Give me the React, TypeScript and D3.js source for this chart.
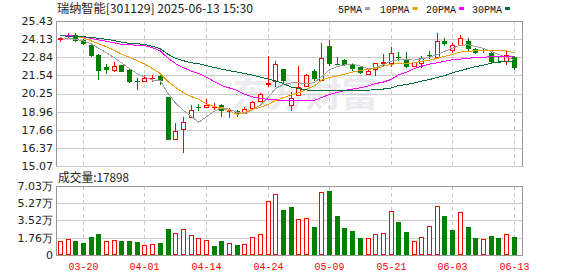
import React from 'react';
import * as d3 from 'd3';

const title = '瑞纳智能[301129] 2025-06-13 15:30';
const volTitle = '成交量:17898';
const watermark = '东方财富';

const dates = ['03-17','03-18','03-19','03-20','03-21','03-24','03-25','03-26','03-27','03-28','03-31','04-01','04-02','04-03','04-07','04-08','04-09','04-10','04-11','04-14','04-15','04-16','04-17','04-18','04-21','04-22','04-23','04-24','04-25','04-28','04-29','04-30','05-06','05-07','05-08','05-09','05-12','05-13','05-14','05-15','05-16','05-19','05-20','05-21','05-22','05-23','05-26','05-27','05-28','05-29','05-30','06-03','06-04','06-05','06-06','06-09','06-10','06-11','06-12','06-13'];

const opens = [24.17,24.40,24.45,24.10,23.74,23.02,22.14,21.95,22.27,21.95,21.12,21.12,21.33,21.52,20.00,17.02,17.74,18.59,19.25,19.31,19.27,19.41,18.98,19.02,18.86,19.22,19.74,20.93,21.12,21.98,19.41,20.17,20.77,21.88,21.24,23.62,22.38,22.62,22.36,22.12,21.64,22.02,22.45,22.43,22.88,22.74,22.19,22.43,22.98,22.84,24.02,23.38,23.69,23.98,23.45,23.33,23.14,22.52,22.55,22.84];
const highs = [24.27,24.55,24.55,24.15,23.78,23.05,22.36,22.48,22.30,22.07,21.36,21.60,21.60,21.58,20.02,18.14,18.55,19.41,19.50,19.84,19.57,19.50,19.22,19.07,19.26,19.69,20.27,22.91,22.55,22.00,20.36,22.19,21.64,21.98,23.86,24.10,22.84,22.74,22.45,22.15,22.02,22.45,23.07,23.55,23.22,23.22,22.52,22.91,23.31,24.57,24.22,23.86,24.45,24.22,23.50,23.43,23.26,22.91,23.26,22.91];
const lows = [23.93,24.17,23.93,23.74,22.88,21.24,21.67,21.77,21.76,21.00,20.52,21.05,21.05,20.84,16.93,16.95,15.99,18.55,19.02,19.22,19.09,18.55,18.50,18.55,18.81,19.09,19.64,20.69,20.69,20.84,19.02,20.05,20.69,21.17,21.17,22.19,22.27,22.19,21.84,21.64,21.59,21.48,22.19,22.12,22.55,22.07,22.14,22.07,22.74,22.74,23.62,23.14,23.62,23.22,23.07,23.14,22.36,22.43,22.31,21.95];
const closes = [24.22,24.45,24.02,23.82,22.95,21.88,21.90,22.19,21.81,21.07,21.05,21.36,21.38,21.17,16.95,17.55,18.19,19.07,19.20,19.45,19.29,19.02,19.05,18.79,19.16,19.64,20.22,21.00,22.36,21.12,19.93,20.69,21.55,21.31,22.79,22.36,22.34,22.27,22.02,21.72,21.88,22.43,22.50,23.14,22.84,22.12,22.48,22.79,22.90,23.98,23.76,23.70,24.22,23.45,23.14,23.29,22.50,22.46,22.98,22.07];
// volume in 万 shares
const volumes = [1.46,1.60,1.46,1.25,1.83,2.17,1.46,1.53,1.46,1.46,1.36,1.02,1.12,1.25,2.68,2.24,2.62,2.04,1.70,1.53,0.92,1.43,1.19,1.02,1.12,1.80,2.11,5.50,6.18,4.59,4.86,3.64,3.74,2.82,6.45,6.52,3.97,2.72,2.45,1.73,1.70,2.11,2.24,4.45,3.33,2.31,1.43,1.87,2.99,4.99,3.97,2.52,4.35,2.82,1.73,1.60,1.91,1.70,2.11,1.79];

const ma5 = [24.22,24.19,24.12,24.01,23.80,23.48,23.16,22.81,22.42,22.03,21.67,21.42,21.21,21.17,20.25,19.54,19.05,18.62,18.20,18.59,18.98,19.26,19.12,18.91,18.80,19.12,19.40,19.97,20.61,20.89,21.00,21.01,20.93,21.03,21.46,21.95,22.17,22.31,22.36,22.20,22.03,22.10,22.31,22.56,22.66,22.66,22.64,22.73,22.84,23.02,23.27,23.50,23.69,23.73,23.62,23.48,23.27,23.02,22.84,22.66];
const ma10 = [24.40,24.37,24.33,24.22,24.01,23.80,23.59,23.34,23.05,22.84,22.59,22.35,22.03,21.67,21.10,20.68,20.32,20.04,19.83,19.49,19.33,19.19,19.01,18.76,18.90,19.12,19.26,19.47,19.76,19.95,20.15,20.30,20.54,20.79,21.21,21.39,21.51,21.64,21.78,21.89,21.98,22.04,22.20,22.35,22.37,22.38,22.45,22.56,22.63,22.76,22.91,23.04,23.21,23.27,23.30,23.32,23.32,23.32,23.30,23.14];
const ma20 = [24.41,24.38,24.35,24.30,24.19,24.08,23.98,23.87,23.76,23.73,23.69,23.66,23.52,23.30,22.77,22.38,22.10,21.85,21.67,21.42,21.10,20.82,20.64,20.47,20.18,20.01,19.90,19.83,19.79,19.76,19.72,19.72,19.72,19.76,19.97,20.18,20.32,20.47,20.57,20.66,20.78,20.96,21.07,21.25,21.60,21.78,22.03,22.20,22.35,22.45,22.56,22.66,22.71,22.77,22.81,22.84,22.88,22.91,22.91,22.86];
const ma30 = [24.37,24.35,24.33,24.30,24.26,24.19,24.12,24.03,23.91,23.83,23.80,23.76,23.62,23.44,23.05,22.77,22.59,22.45,22.38,22.24,22.11,21.99,21.88,21.78,21.67,21.56,21.42,21.28,21.14,20.96,20.71,20.61,20.50,20.44,20.44,20.44,20.44,20.44,20.44,20.46,20.49,20.52,20.57,20.64,20.82,20.89,21.00,21.14,21.25,21.39,21.53,21.74,21.88,22.03,22.17,22.27,22.42,22.50,22.54,22.56];

const priceTicks = ['25.43','24.13','22.84','21.54','20.25','18.96','17.66','16.37','15.07'];
const volTickValues = [7.03, 5.27, 3.52, 1.76, 0];
const volTickLabels = ['7.03万','5.27万','3.52万','1.76万','0'];
const xTickDates = ['03-20','04-01','04-14','04-24','05-09','05-21','06-03','06-13'];

const maNames = ['5PMA','10PMA','20PMA','30PMA'];
const maSeries = [ma5, ma10, ma20, ma30];
const maColors = ['#a0a0a0','#f0a000','#ff00ff','#006f3a'];

const UP = '#ff0000';
const DOWN = '#008000';

export default function App() {
  const W = 578, H = 276;
  const L = 56, R = 522, PT = 21, PB = 166, VT = 186, VB = 255;
  const x = d3.scaleBand<string>().domain(dates).range([56.5, 518]);
  const y = d3.scaleLinear().domain([15.07, 25.43]).range([PB, PT]);
  const yv = d3.scaleLinear().domain([0, 7.03]).range([VB, VT]);
  const center = (d: string) => (x(d) as number) + x.bandwidth() / 2;
  const leftPx = (d: string) => Math.round(center(d) - 2.5);
  const hy = (v: number) => Math.round(v) + 0.5;

  const legendX = [338, 380, 426, 472];
  const legendW = [24, 29.5, 30, 30];

  return (
    <svg width={W} height={H} style={{ position: 'absolute', left: 0, top: 0, background: '#fff' }}
      fontFamily="'DejaVu Sans', sans-serif">
      <rect x={0} y={0} width={W} height={H} fill="#fff" />
      {/* title */}
      <text x={57} y={12.5} fontSize={12} fill="#222" fontFamily="'Noto Sans CJK SC', sans-serif" textLength={196} lengthAdjust="spacingAndGlyphs">{title}</text>
      {/* legend */}
      {maNames.map((n, i) => (
        <g key={n}>
          <text x={legendX[i]} y={12.5} fontSize={11} fill="#111" fontFamily="'Liberation Mono', monospace" textLength={legendW[i]} lengthAdjust="spacingAndGlyphs">{n}</text>
          <rect x={legendX[i] + legendW[i] + 3} y={7} width={5} height={3} fill={maColors[i]} />
        </g>
      ))}

      {/* watermark */}
      <text x={232} y={107} fontSize={35} fontWeight="bold" fill="#ebebf0" fontFamily="'Noto Sans CJK SC', sans-serif" textLength={146} lengthAdjust="spacingAndGlyphs">{watermark}</text>

      {/* price grid */}
      {priceTicks.map((t) => (
        <line key={'g' + t} x1={L} x2={R} y1={hy(y(+t))} y2={hy(y(+t))} stroke="#cccccc" strokeWidth={1} />
      ))}
      {xTickDates.map((d) => (
        <line key={'vd' + d} x1={leftPx(d) + 2.5} x2={leftPx(d) + 2.5} y1={PT} y2={PB} stroke="#cccccc" strokeDasharray="4,3" />
      ))}
      <line x1={L} x2={R} y1={hy(PT)} y2={hy(PT)} stroke="#999" />
      <line x1={L + 0.5} x2={L + 0.5} y1={PT} y2={PB} stroke="#999" />
      <line x1={R + 0.5} x2={R + 0.5} y1={PT} y2={PB + 1} stroke="#999" />
      {priceTicks.map((t) => (
        <text key={'pl' + t} x={53} y={y(+t)} dy="0.36em" textAnchor="end" fontSize={11} fill="#222">{t}</text>
      ))}

      {/* candles */}
      {dates.map((d, i) => {
        const o = opens[i], c = closes[i], hgh = highs[i], lw = lows[i];
        const up = c > o;
        const col = up ? UP : DOWN;
        const lp = leftPx(d);
        const mid = lp + 2.5;
        const t = Math.round(y(Math.max(o, c)));
        const b = Math.round(y(Math.min(o, c)));
        const bh = b - t;
        return (
          <g key={'c' + d}>
            <line x1={mid} x2={mid} y1={Math.round(y(hgh))} y2={Math.round(y(lw))} stroke={col} strokeWidth={1} />
            {bh < 1 ? (
              <line x1={lp} x2={lp + 5} y1={t + 0.5} y2={t + 0.5} stroke={col} />
            ) : up ? (
              <rect x={lp + 0.5} y={t + 0.5} width={4} height={bh} fill="#fff" stroke={col} strokeWidth={1} />
            ) : (
              <rect x={lp} y={t} width={5} height={Math.max(1, bh)} fill={col} />
            )}
          </g>
        );
      })}

      {/* moving averages */}
      {maSeries.map((s, k) => {
        const line = d3.line<number>()
          .x((_, i) => center(dates[i]))
          .y((v) => y(v));
        return <path key={'ma' + k} d={line(s) || ''} fill="none" stroke={maColors[k]} strokeWidth={1} shapeRendering="crispEdges" />;
      })}

      {/* volume panel */}
      <text x={58} y={182} fontSize={12} fill="#222" fontFamily="'Noto Sans CJK SC', sans-serif" textLength={71} lengthAdjust="spacingAndGlyphs">{volTitle}</text>
      {volTickValues.map((v, i) => (
        <g key={'vt' + i}>
          {v > 0 && v < 7.03 && (
            <line x1={L} x2={R} y1={hy(yv(v))} y2={hy(yv(v))} stroke="#cccccc" />
          )}
          <text x={53} y={yv(v)} dy="0.36em" textAnchor="end" fontSize={11} fill="#222">{volTickLabels[i]}</text>
        </g>
      ))}
      {xTickDates.map((d) => (
        <line key={'vv' + d} x1={leftPx(d) + 2.5} x2={leftPx(d) + 2.5} y1={VT} y2={VB} stroke="#cccccc" strokeDasharray="4,3" />
      ))}
      {dates.map((d, i) => {
        const up = i === 0 ? closes[0] >= opens[0] : closes[i] >= closes[i - 1];
        const lp = leftPx(d);
        const t = Math.round(yv(volumes[i]));
        return up ? (
          <rect key={'v' + d} x={lp + 0.5} y={t + 0.5} width={4} height={VB - t - 1} fill="#fff" stroke={UP} />
        ) : (
          <rect key={'v' + d} x={lp} y={t} width={5} height={VB - t} fill={DOWN} />
        );
      })}
      <rect x={L + 0.5} y={VT + 0.5} width={R - L} height={VB - VT} fill="none" stroke="#999" />

      {/* x labels */}
      {xTickDates.map((d) => (
        <text key={'xl' + d} x={leftPx(d) + 2.5} y={270} textAnchor="middle" fontSize={11} fill="#ff0000" fontFamily="'Liberation Mono', monospace" textLength={30} lengthAdjust="spacingAndGlyphs">{d}</text>
      ))}
    </svg>
  );
}
